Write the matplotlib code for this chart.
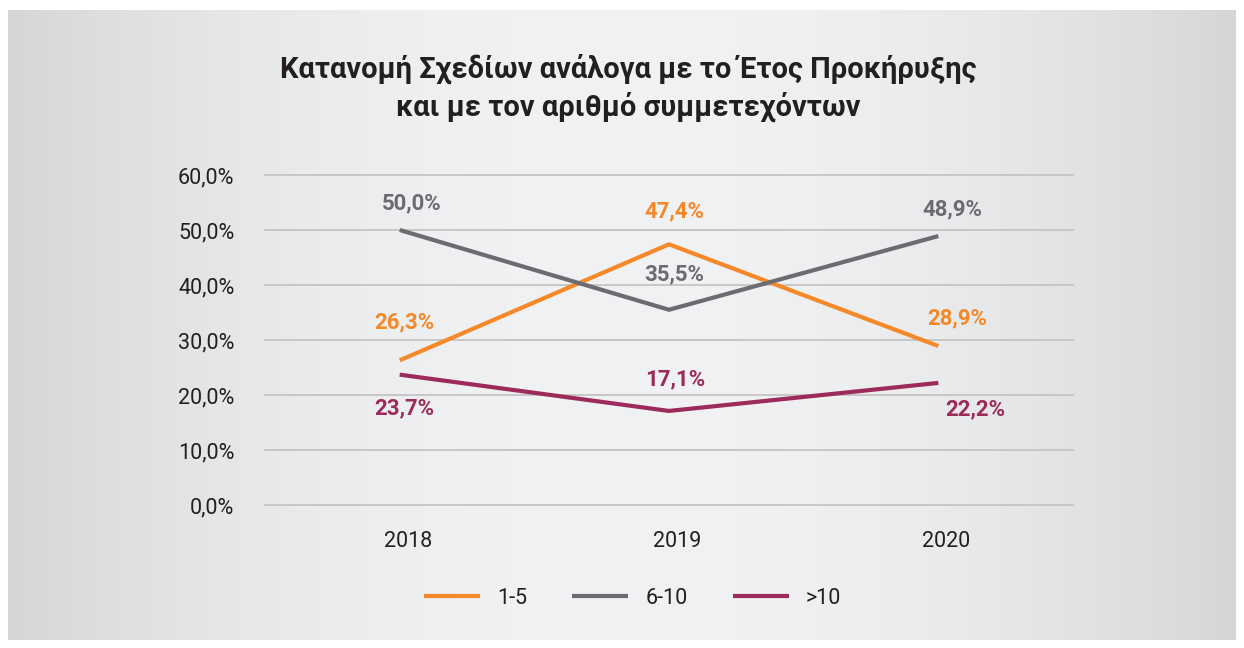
import matplotlib
matplotlib.use('Agg')
import matplotlib.pyplot as plt
import matplotlib.transforms as mtransforms
import numpy as np

years = ['2018', '2019', '2020']
series_names = ['1-5', '6-10', '>10']
small = [26.3, 47.4, 28.9]
medium = [50.0, 35.5, 48.9]
large = [23.7, 17.1, 22.2]
y_ticks = [0, 10, 20, 30, 40, 50, 60]

title = 'Κατανομή Σχεδίων ανάλογα με το Έτος Προκήρυξης\nκαι με τον αριθμό συμμετεχόντων'

orange = '#f5892a'
grey = '#6b6c6f'
maroon = '#9c2b5c'

plt.rcParams['font.family'] = ['Roboto', 'DejaVu Sans']

fig = plt.figure(figsize=(12.44, 6.48), dpi=100)
fig.patch.set_facecolor('white')

# gradient panel behind the chart
bg = fig.add_axes([8 / 1244, 1 - 640 / 648, 1228 / 1244, 630 / 648])
t = np.abs(np.linspace(-1, 1, 600))
edge = np.array([0.835, 0.839, 0.847])
mid = np.array([0.945, 0.949, 0.953])
prof = mid - (mid - edge) * t[:, None] ** 2
bg.imshow(prof[None, :, :], aspect='auto', extent=[0, 1, 0, 1])
bg.axis('off')
bg.set_zorder(0)

ax = fig.add_axes([265 / 1244, 1 - 505 / 648, 808 / 1244, 330 / 648])
ax.set_zorder(1)
ax.patch.set_alpha(0)

x = np.arange(len(years))
ax.plot(x, small, color=orange, lw=3, label=series_names[0], solid_capstyle='butt')
ax.plot(x, medium, color=grey, lw=3, label=series_names[1], solid_capstyle='butt')
ax.plot(x, large, color=maroon, lw=3, label=series_names[2], solid_capstyle='butt')

ax.set_xlim(-0.5, 2.5)
ax.set_ylim(0, 60)
ax.set_yticks(y_ticks)
ax.set_yticklabels([f'{v:.1f}%'.replace('.', ',') for v in y_ticks])
ax.set_xticks(x)
ax.set_xticklabels(years)
ax.tick_params(length=0, labelsize=15.5, colors='#231f20')
ax.tick_params(axis='y', pad=22)
ax.tick_params(axis='x', pad=19)
shift = mtransforms.ScaledTranslation(8 / 100, 0, fig.dpi_scale_trans)
for lbl in ax.get_xticklabels():
    lbl.set_transform(lbl.get_transform() + shift)
for s in ax.spines.values():
    s.set_visible(False)
ax.yaxis.grid(True, color='#c4c4c4', lw=1.3)
ax.set_axisbelow(True)
for gl in ax.get_ygridlines():
    gl.set_clip_on(False)

# label offsets in pixels (dx, dy) for each point
offsets = {
    0: [(5, 38), (5, 33), (19, 28)],
    1: [(12, 27), (5, 35), (14, 27)],
    2: [(5, -34), (6, 32), (37, -26)],
}
for k, (vals, c) in enumerate([(small, orange), (medium, grey), (large, maroon)]):
    for i, v in enumerate(vals):
        dx, dy = offsets[k][i]
        ax.annotate(f'{v:.1f}%'.replace('.', ','), (x[i], v), xytext=(dx, dy),
                    textcoords='offset pixels', ha='center', va='center',
                    fontsize=16, fontweight='bold', color=c)

fig.text(628 / 1244, 1 - 88 / 648, title, ha='center', va='center',
         fontsize=21, fontweight='bold', color='#231f20', linespacing=1.3)

leg = ax.legend(loc='center', bbox_to_anchor=(0.455, 1 - (598 - 175) / 330),
                ncol=3, frameon=False, fontsize=15.5, handlelength=2.6,
                handletextpad=0.8, columnspacing=2.1)
for line in leg.get_lines():
    line.set_linewidth(3)
for txt in leg.get_texts():
    txt.set_color('#231f20')

fig.savefig('out.png', dpi=100)
